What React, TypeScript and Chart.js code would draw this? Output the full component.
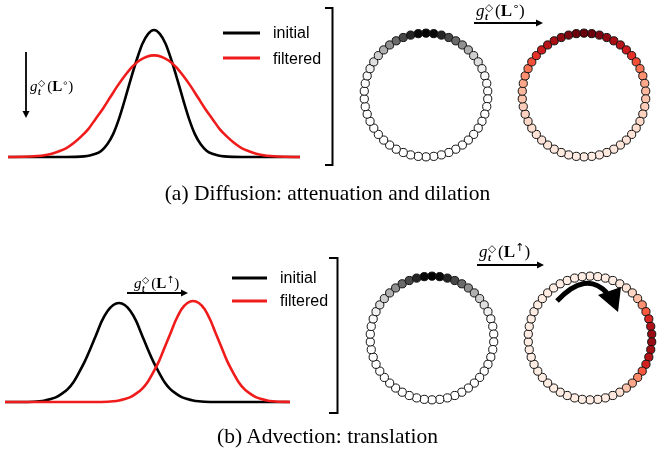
import React, { useEffect, useRef } from 'react';
import { Chart, registerables } from 'chart.js';
Chart.register(...registerables);

// ---------------- data ----------------
const legendLabels = ['initial', 'filtered'];
const captionA = '(a) Diffusion: attenuation and dilation';
const captionB = '(b) Advection: translation';

// (a) diffusion curves (x: 0..100, y: amplitude, initial peak = 1)
const diffInitialX = [0, 20, 23, 26, 28, 30, 32, 34, 36, 38, 40, 42, 44, 46, 48, 50, 52, 54, 56, 58, 60, 62, 64, 66, 68, 70, 72, 74, 77, 80, 100];
const diffInitialY = [0, 0, 0.001, 0.005, 0.012, 0.025, 0.05, 0.10, 0.18, 0.30, 0.45, 0.61, 0.76, 0.89, 0.97, 1.0, 0.97, 0.89, 0.76, 0.61, 0.45, 0.30, 0.18, 0.10, 0.05, 0.025, 0.012, 0.005, 0.001, 0, 0];
const diffFilteredX = [0, 5, 10, 12.5, 15, 17.5, 20, 22.5, 25, 27.5, 30, 32.5, 35, 37.5, 40, 42.5, 45, 47.5, 50, 52.5, 55, 57.5, 60, 62.5, 65, 67.5, 70, 72.5, 75, 77.5, 80, 82.5, 85, 87.5, 90, 95, 100];
const diffFilteredY = [0, 0.002, 0.008, 0.014, 0.025, 0.045, 0.07, 0.11, 0.16, 0.22, 0.30, 0.38, 0.47, 0.56, 0.64, 0.71, 0.76, 0.79, 0.80, 0.79, 0.76, 0.71, 0.64, 0.56, 0.47, 0.38, 0.30, 0.22, 0.16, 0.11, 0.07, 0.045, 0.025, 0.014, 0.008, 0.002, 0];

// (b) advection curves
const advInitialX = [0, 6, 10, 12, 14, 16, 18, 20, 22, 24, 26, 28, 30, 32, 34, 36, 38, 40, 42, 44, 46, 48, 50, 52, 54, 56, 58, 60, 62, 64, 66, 68, 70, 74, 100];
const advInitialY = [0, 0, 0.003, 0.007, 0.015, 0.03, 0.05, 0.085, 0.13, 0.20, 0.30, 0.41, 0.54, 0.68, 0.82, 0.92, 0.98, 1.0, 0.98, 0.92, 0.82, 0.68, 0.54, 0.41, 0.30, 0.20, 0.13, 0.085, 0.05, 0.03, 0.015, 0.007, 0.003, 0, 0];
const advFilteredX = [0, 32, 36, 38, 40, 42, 44, 46, 48, 50, 52, 54, 56, 58, 60, 62, 64, 66, 68, 70, 72, 74, 76, 78, 80, 82, 84, 86, 88, 90, 92, 94, 96, 100];
const advFilteredY = [0, 0, 0.003, 0.007, 0.015, 0.03, 0.05, 0.085, 0.13, 0.20, 0.30, 0.41, 0.55, 0.69, 0.83, 0.94, 1.0, 1.02, 1.0, 0.94, 0.83, 0.69, 0.55, 0.41, 0.30, 0.20, 0.13, 0.085, 0.05, 0.03, 0.015, 0.007, 0.003, 0];

// ring signals: 50 nodes, index 0 at top, clockwise
const ringInitial = [
  1.0, 0.97, 0.88, 0.78, 0.66, 0.52, 0.42, 0.30, 0.22, 0.12,
  0.06, 0.02, 0, 0, 0, 0, 0, 0, 0, 0,
  0, 0, 0, 0, 0, 0, 0, 0, 0, 0,
  0, 0, 0, 0, 0, 0, 0, 0, 0, 0.02,
  0.06, 0.12, 0.22, 0.30, 0.42, 0.52, 0.66, 0.78, 0.88, 0.97,
];
const ringDiffused = [
  1.0, 0.99, 0.96, 0.92, 0.87, 0.81, 0.74, 0.66, 0.57, 0.47,
  0.38, 0.31, 0.26, 0.22, 0.19, 0.17, 0.15, 0.13, 0.11, 0.10,
  0.09, 0.08, 0.07, 0.06, 0.05, 0.05, 0.05, 0.06, 0.07, 0.08,
  0.09, 0.10, 0.11, 0.13, 0.15, 0.17, 0.19, 0.22, 0.26, 0.31,
  0.38, 0.47, 0.57, 0.66, 0.74, 0.81, 0.87, 0.92, 0.96, 0.99,
];
const ringAdvected = [
  0.05, 0.05, 0.05, 0.05, 0.07, 0.10, 0.16, 0.24, 0.38, 0.54,
  0.70, 0.84, 0.90, 0.90, 0.88, 0.82, 0.72, 0.55, 0.40, 0.31,
  0.22, 0.12, 0.08, 0.05, 0.05, 0.05, 0.05, 0.05, 0.05, 0.05,
  0.05, 0.05, 0.05, 0.05, 0.05, 0.05, 0.05, 0.05, 0.05, 0.05,
  0.05, 0.05, 0.05, 0.05, 0.05, 0.05, 0.05, 0.05, 0.05, 0.05,
];

// ---------------- styles ----------------
const GREYS = ['#ffffff', '#f0f0f0', '#d9d9d9', '#bdbdbd', '#969696', '#737373', '#525252', '#252525', '#000000'];
const REDS = ['#fff5f0', '#fee0d2', '#fcbba1', '#fc9272', '#fb6a4a', '#ef3b2c', '#cb181d', '#a50f15', '#67000d'];
const BLACK = '#000000';
const RED = '#f01c1c';

function hex(h: string) {
  return [parseInt(h.slice(1, 3), 16), parseInt(h.slice(3, 5), 16), parseInt(h.slice(5, 7), 16)];
}
function cmap(stops: string[], v: number) {
  const t = Math.max(0, Math.min(1, v)) * (stops.length - 1);
  const i = Math.min(stops.length - 2, Math.floor(t));
  const f = t - i;
  const a = hex(stops[i]);
  const b = hex(stops[i + 1]);
  const c = a.map((av, j) => Math.round(av + (b[j] - av) * f));
  return `rgb(${c[0]},${c[1]},${c[2]})`;
}

type Curve = { xs: number[]; ys: number[]; color: string; order: number };

function CurveChart(props: {
  left: number; top: number; width: number; height: number;
  x0: number; x100: number; base: number; peak: number; curves: Curve[];
}) {
  const ref = useRef<HTMLCanvasElement>(null);
  const { left, top, width, height, x0, x100, base, peak, curves } = props;
  useEffect(() => {
    const ppx = (x100 - x0) / 100;
    const ppy = base - peak;
    const chart = new Chart(ref.current as HTMLCanvasElement, {
      type: 'line',
      data: {
        datasets: curves.map((c) => ({
          data: c.xs.map((x, i) => ({ x, y: c.ys[i] })),
          borderColor: c.color,
          borderWidth: 2.6,
          pointRadius: 0,
          cubicInterpolationMode: 'monotone' as const,
          fill: false,
          order: c.order,
        })),
      },
      options: {
        responsive: false,
        animation: false,
        events: [],
        layout: { padding: 0 },
        plugins: { legend: { display: false }, tooltip: { enabled: false } },
        scales: {
          x: { type: 'linear', display: false, min: (left - x0) / ppx, max: (left + width - x0) / ppx },
          y: { type: 'linear', display: false, min: (base - (top + height)) / ppy, max: (base - top) / ppy },
        },
      },
    });
    return () => chart.destroy();
  }, []);
  return <canvas ref={ref} width={width} height={height} style={{ position: 'absolute', left, top, width, height }} />;
}

function RingChart(props: { cx: number; cy: number; radius: number; values: number[]; stops: string[] }) {
  const ref = useRef<HTMLCanvasElement>(null);
  const { cx, cy, radius, values, stops } = props;
  const size = 2 * radius + 30;
  useEffect(() => {
    const n = values.length;
    const half = size / 2 / radius;
    const chart = new Chart(ref.current as HTMLCanvasElement, {
      type: 'scatter',
      data: {
        datasets: [
          {
            data: values.map((_, k) => ({ x: Math.sin((2 * Math.PI * k) / n), y: Math.cos((2 * Math.PI * k) / n) })),
            pointBackgroundColor: values.map((v) => cmap(stops, v)),
            pointBorderColor: '#111111',
            pointBorderWidth: 1,
            pointRadius: 4.1,
            showLine: false,
          },
        ],
      },
      options: {
        responsive: false,
        animation: false,
        events: [],
        layout: { padding: 0 },
        plugins: { legend: { display: false }, tooltip: { enabled: false } },
        scales: {
          x: { type: 'linear', display: false, min: -half, max: half },
          y: { type: 'linear', display: false, min: -half, max: half },
        },
      },
    });
    return () => chart.destroy();
  }, []);
  return (
    <canvas
      ref={ref}
      width={size}
      height={size}
      style={{ position: 'absolute', left: cx - size / 2, top: cy - size / 2, width: size, height: size }}
    />
  );
}

function GLabel(props: { left: number; top: number; size: number; op: string }) {
  const { left, top, size, op } = props;
  return (
    <div
      style={{
        position: 'absolute', left, top, fontFamily: '"Liberation Serif", "DejaVu Serif", serif',
        fontSize: size, lineHeight: 1, whiteSpace: 'nowrap', color: '#000',
      }}
    >
      <i>g</i>
      <span style={{ display: 'inline-block', verticalAlign: -size * 0.25, fontSize: '0.62em', lineHeight: 0.95, textAlign: 'left', marginLeft: 0.5 }}>
        <span style={{ display: 'block', fontFamily: '"DejaVu Sans", sans-serif' }}>◇</span>
        <span style={{ display: 'block', fontStyle: 'italic', fontWeight: 'bold' }}>t</span>
      </span>
      <span style={{ marginLeft: 2 }}>(</span>
      <b>L</b>
      <sup style={{ fontSize: '0.65em', fontFamily: '"DejaVu Sans", sans-serif', verticalAlign: size * 0.35 }}>{op}</sup>
      <span>)</span>
    </div>
  );
}

function Legend(props: { left: number; y1: number; y2: number }) {
  const { left, y1, y2 } = props;
  const st = { position: 'absolute' as const, left, fontFamily: '"Liberation Sans", Arial, sans-serif', fontSize: 16, lineHeight: '16px', color: '#000', whiteSpace: 'nowrap' as const };
  return (
    <>
      <div style={{ ...st, top: y1 - 8 }}>{legendLabels[0]}</div>
      <div style={{ ...st, top: y2 - 8 }}>{legendLabels[1]}</div>
    </>
  );
}

function Arrow(props: { x1: number; y1: number; x2: number; y2: number; w?: number }) {
  const { x1, y1, x2, y2 } = props;
  const w = props.w ?? 1.8;
  const dx = x2 - x1, dy = y2 - y1;
  const L = Math.hypot(dx, dy);
  const ux = dx / L, uy = dy / L;
  const hl = 7, hw = 3.5;
  const bx = x2 - ux * hl, by = y2 - uy * hl;
  const pts = `${x2},${y2} ${bx - uy * hw},${by + ux * hw} ${bx + uy * hw},${by - ux * hw}`;
  return (
    <g>
      <line x1={x1} y1={y1} x2={bx} y2={by} stroke="#000" strokeWidth={w} />
      <polygon points={pts} fill="#000" />
    </g>
  );
}

const captionStyle = {
  position: 'absolute' as const, left: 0, width: 655, textAlign: 'center' as const,
  fontFamily: '"Liberation Serif", serif', fontSize: 21.5, lineHeight: '22px', color: '#000', whiteSpace: 'nowrap' as const,
};

export default function App() {
  return (
    <div style={{ position: 'absolute', left: 0, top: 0, width: 660, height: 457, overflow: 'hidden', background: '#fff' }}>
      <CurveChart
        left={0} top={15} width={310} height={155}
        x0={8} x100={300} base={157} peak={30}
        curves={[
          { xs: diffFilteredX, ys: diffFilteredY, color: RED, order: 1 },
          { xs: diffInitialX, ys: diffInitialY, color: BLACK, order: 2 },
        ]}
      />
      <CurveChart
        left={0} top={285} width={300} height={125}
        x0={5} x100={290} base={402} peak={303}
        curves={[
          { xs: advFilteredX, ys: advFilteredY, color: RED, order: 1 },
          { xs: advInitialX, ys: advInitialY, color: BLACK, order: 2 },
        ]}
      />
      <RingChart cx={426} cy={95} radius={66} values={ringInitial} stops={GREYS} />
      <RingChart cx={584} cy={95} radius={66} values={ringDiffused} stops={REDS} />
      <RingChart cx={431.5} cy={338} radius={66} values={ringInitial} stops={GREYS} />
      <RingChart cx={589.5} cy={338} radius={66} values={ringAdvected} stops={REDS} />

      <svg width={660} height={457} style={{ position: 'absolute', left: 0, top: 0, pointerEvents: 'none' }}>
        <line x1={223} y1={33} x2={260} y2={33} stroke={BLACK} strokeWidth={3} />
        <line x1={223} y1={58} x2={260} y2={58} stroke={RED} strokeWidth={3} />
        <line x1={232} y1={278} x2={267} y2={278} stroke={BLACK} strokeWidth={3} />
        <line x1={232} y1={301} x2={267} y2={301} stroke={RED} strokeWidth={3} />
        <polyline points="325,8 332.5,8 332.5,165 325,165" fill="none" stroke="#000" strokeWidth={2} />
        <polyline points="329,258 337.5,258 337.5,413 329,413" fill="none" stroke="#000" strokeWidth={2} />
        <Arrow x1={26} y1={52} x2={26} y2={118} />
        <Arrow x1={474} y1={23} x2={543} y2={23} />
        <Arrow x1={127} y1={293} x2={188} y2={293} />
        <Arrow x1={477} y1={265} x2={544} y2={265} />
        <path d="M 557 301 Q 586 270 607 293" fill="none" stroke="#000" strokeWidth={5} />
        <polygon points="598,295 621,287 618,312" fill="#000" />
      </svg>

      <GLabel left={30} top={78} size={15} op="∘" />
      <GLabel left={476} top={1} size={17} op="∘" />
      <GLabel left={134} top={275} size={15} op="↑" />
      <GLabel left={479} top={242} size={17} op="↑" />

      <Legend left={273} y1={33} y2={59} />
      <Legend left={280} y1={278} y2={301} />

      <div style={{ ...captionStyle, top: 182 }}>{captionA}</div>
      <div style={{ ...captionStyle, top: 425 }}>{captionB}</div>
    </div>
  );
}
